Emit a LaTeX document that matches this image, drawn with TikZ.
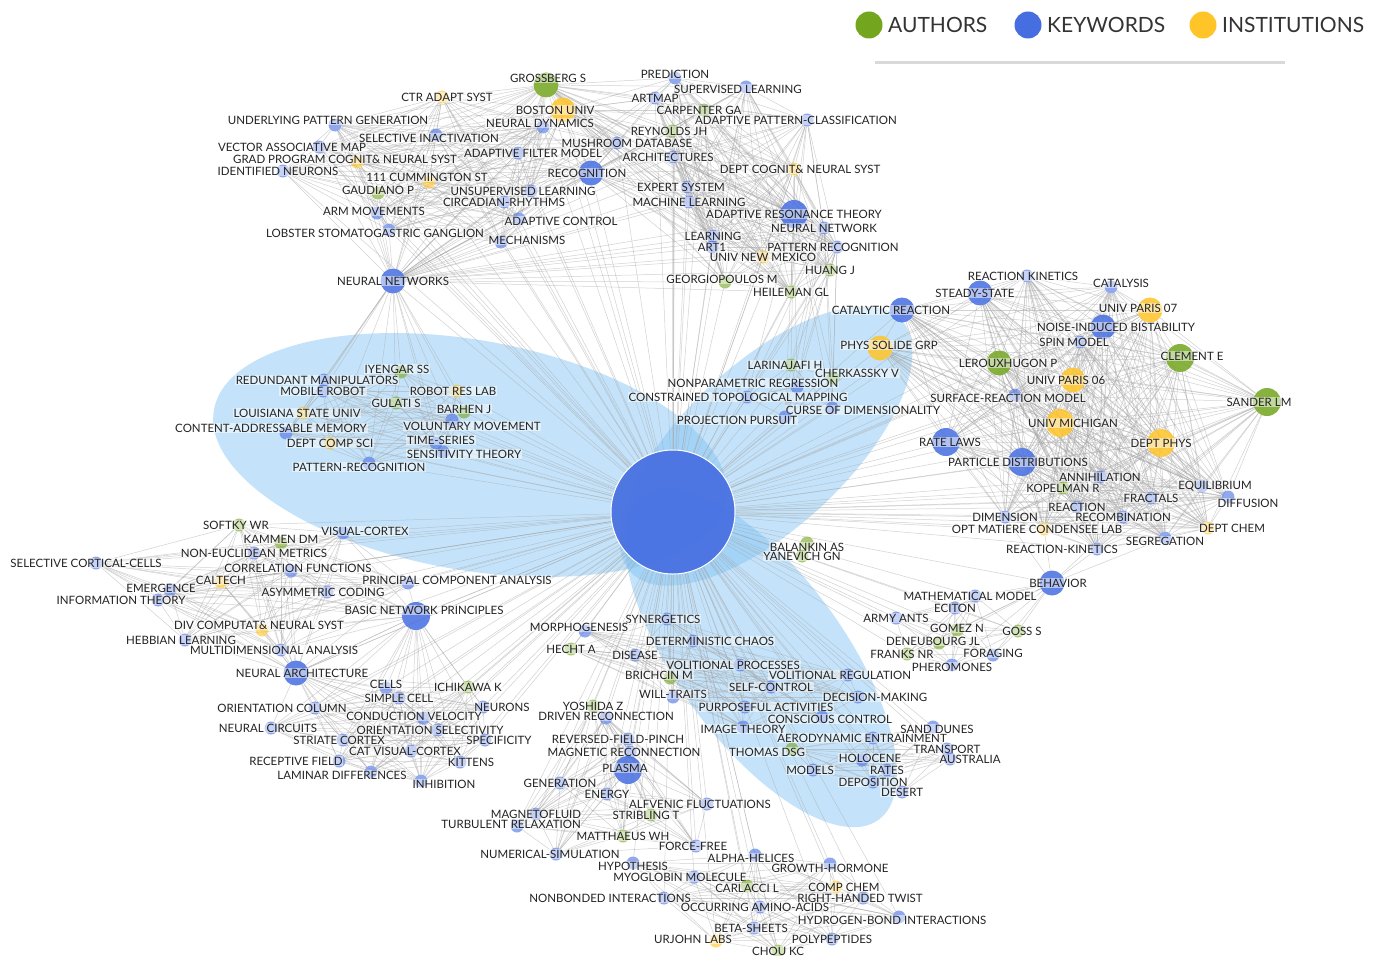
\documentclass[tikz,border=0pt]{standalone}
\usepackage{fontspec}
\setmainfont{Lato}

\definecolor{kwblue}{RGB}{70,110,225}
\definecolor{augreen}{RGB}{115,165,30}
\definecolor{instyel}{RGB}{255,196,40}
\definecolor{ellblue}{RGB}{125,195,245}
\definecolor{linkgray}{RGB}{165,165,165}
\definecolor{lbltext}{RGB}{35,35,35}

\tikzstyle{vtx}=[circle, inner sep=0pt, minimum size=13pt, fill opacity=0.6, draw=none]
\tikzstyle{au}=[vtx, fill=augreen]
\tikzstyle{kw}=[vtx, fill=kwblue]
\tikzstyle{inst}=[vtx, fill=instyel]
\tikzstyle{big}=[minimum size=25pt, fill opacity=0.85]
\tikzstyle{huge}=[minimum size=28pt, fill opacity=0.85]
\tikzstyle{lbl}=[font=\fontsize{11.5}{12}\selectfont, text=lbltext, fill=white, fill opacity=0.5, text opacity=1, inner sep=0.8pt]
\tikzstyle{link}=[draw=linkgray, line width=0.5pt, draw opacity=0.5]
\tikzstyle{blob}=[fill=ellblue, fill opacity=0.45]
\tikzstyle{legtext}=[font=\fontsize{21}{24}\selectfont, text=black!80, anchor=west, inner sep=0pt]

\pgfdeclarelayer{back}
\pgfdeclarelayer{links}
\pgfsetlayers{back,links,main}

\newcommand{\meshcluster}[1]{%
  \foreach \pa [count=\ca] in #1 {%
    \foreach \pb [count=\cb] in #1 {%
      \ifnum\cb>\ca\relax \draw[link] (\pa) -- (\pb);\fi}}}

\def\clA{gross,ctr,boston,neurdyn,underl,selinact,vecmap,gradprog,identn,adfilt,mushroom,recog,cumm,gaudiano,unsup,circad,armmov,adcontrol,lobster,mechan,neuralnets}
\def\clB{predict,superv,artmap,carpenter,adpattern,reynolds,archit,deptcog,expert,machine,art,neurnet,learning,artone,patrec,newmexico,huang,georg,heileman}
\def\clC{reackin,steady,catreac,catalysis,paris7,noise,spin,clement,leroux,phys,paris6,surface,sander,michigan,ratelaws,deptphys,partdist,annih,kopelman,equil,fractals,diffusion,reaction,dimension,recomb,optmat,deptchem,segreg,reackin2}
\def\clD{iyengar,redund,mobile,robotres,gulati,louisiana,barhen,content,volunt,deptcomp,timeser,sensit,patrec2}
\def\clE{larin,cherk,nonpar,constr,curse,projp}
\def\clF{softky,kammen,viscort,noneucl,selcort,corrfun,emerg,caltech,princ,asym,infoth,basic,divcomp,hebb,multidim,neurarch}
\def\clG{cells,ichikawa,simple,oricol,neurons,conduct,neurcirc,orisel,striate,specif,catvis,recept,kittens,laminar,inhib,neurarch,basic}
\def\clH{synerg,morpho,hecht,disease,determ,volproc,brichcin,willtr,selfc,volreg,decis,purpose,conscious,image}
\def\clI{thomas,models,aerodyn,holocene,rates,depo,desert,sanddunes,transport,australia}
\def\clJ{behavior,mathmod,eciton,armyants,gomez,goss,deneub,franks,foraging,pheromones}
\def\clK{yoshida,driven,reversed,magrec,plasma,generation,energy,alfvenic,magneto,stribling,turbulent,matthaeus,forcefree,numsim}
\def\clM{alpha,growth,hypoth,myoglobin,carlacci,compchem,nonbonded,righthand,occurring,hydrogen,betash,urjohn,polypep,chou}
\edef\allnodes{\clA,\clB,\clC,\clD,\clE,\clF,\clG,\clH,\clI,\clJ,\clK,\clM,balankin,yanevich}

\begin{document}
\begin{tikzpicture}[x=1pt,y=-1pt]
\useasboundingbox (0,0) rectangle (1380,955);

\begin{pgfonlayer}{back}
\fill[white] (0,0) rectangle (1380,955);
\fill[blob, rotate around={-10:(470,455)}] (470,455) ellipse [x radius=260, y radius=115];
\fill[blob, rotate around={43:(766,446)}] (766,446) ellipse [x radius=185, y radius=82];
\fill[blob, rotate around={-54:(761,658)}] (761,658) ellipse [x radius=200, y radius=84];
\end{pgfonlayer}

\node(hub)[kw, minimum size=124pt, fill opacity=0.92, draw=white, line width=1pt] at (673,512) {};

\node(gross)[au, big, label={[lbl,xshift=2pt,yshift=7pt]center:GROSSBERG S}] at (546,85) {};
\node(ctr)[inst, label={[lbl,xshift=5pt]center:CTR ADAPT SYST}] at (442,97) {};
\node(boston)[inst, big, label={[lbl,xshift=-8pt]center:BOSTON UNIV}] at (563,110) {};
\node(neurdyn)[kw, label={[lbl,xshift=-3pt,yshift=4pt]center:NEURAL DYNAMICS}] at (543,127) {};
\node(underl)[kw, label={[lbl,xshift=-7pt,yshift=5pt]center:UNDERLYING PATTERN GENERATION}] at (335,125) {};
\node(selinact)[kw, label={[lbl,xshift=-7pt,yshift=-3pt]center:SELECTIVE INACTIVATION}] at (436,135) {};
\node(vecmap)[kw, label={[lbl,xshift=-27pt]center:VECTOR ASSOCIATIVE MAP}] at (319,147) {};
\node(gradprog)[inst, label={[lbl,xshift=-12pt,yshift=3pt]center:GRAD PROGRAM COGNIT\& NEURAL SYST}] at (357,162) {};
\node(identn)[kw, label={[lbl,xshift=-5pt]center:IDENTIFIED NEURONS}] at (283,171) {};
\node(adfilt)[kw, label={[lbl,xshift=15pt]center:ADAPTIVE FILTER MODEL}] at (518,153) {};
\node(mushroom)[kw, label={[lbl,xshift=10pt]center:MUSHROOM DATABASE}] at (617,143) {};
\node(recog)[kw, big, label={[lbl,xshift=-4pt]center:RECOGNITION}] at (591,173) {};
\node(cumm)[inst, label={[lbl,xshift=-2pt,yshift=5pt]center:111 CUMMINGTON ST}] at (429,182) {};
\node(gaudiano)[au, label={[lbl,yshift=3pt]center:GAUDIANO P}] at (378,193) {};
\node(unsup)[kw, label={[lbl,xshift=-8pt]center:UNSUPERVISED LEARNING}] at (531,191) {};
\node(circad)[kw, label={[lbl]center:CIRCADIAN-RHYTHMS}] at (504,202) {};
\node(armmov)[kw, label={[lbl,xshift=-3pt,yshift=2pt]center:ARM MOVEMENTS}] at (377,213) {};
\node(adcontrol)[kw, label={[lbl,xshift=42pt,yshift=-2pt]center:ADAPTIVE CONTROL}] at (519,219) {};
\node(lobster)[kw, label={[lbl,xshift=-14pt,yshift=-3pt]center:LOBSTER STOMATOGASTRIC GANGLION}] at (389,230) {};
\node(mechan)[kw, label={[lbl,xshift=26pt,yshift=2pt]center:MECHANISMS}] at (501,242) {};
\node(neuralnets)[kw, big, label={[lbl]center:NEURAL NETWORKS}] at (393,281) {};

\node(predict)[kw, label={[lbl,yshift=4pt]center:PREDICTION}] at (675,78) {};
\node(superv)[kw, label={[lbl,xshift=-8pt,yshift=-2pt]center:SUPERVISED LEARNING}] at (746,87) {};
\node(artmap)[kw, label={[lbl]center:ARTMAP}] at (655,98) {};
\node(carpenter)[au, label={[lbl,xshift=-5pt]center:CARPENTER GA}] at (704,110) {};
\node(adpattern)[kw, label={[lbl,xshift=-11pt]center:ADAPTIVE PATTERN-CLASSIFICATION}] at (807,120) {};
\node(reynolds)[au, label={[lbl,xshift=-3pt]center:REYNOLDS JH}] at (672,131) {};
\node(archit)[kw, label={[lbl,xshift=-5pt]center:ARCHITECTURES}] at (673,157) {};
\node(deptcog)[inst, label={[lbl,xshift=6pt]center:DEPT COGNIT\& NEURAL SYST}] at (794,169) {};
\node(expert)[kw, label={[lbl,xshift=-6pt]center:EXPERT SYSTEM}] at (687,187) {};
\node(machine)[kw, label={[lbl]center:MACHINE LEARNING}] at (689,202) {};
\node(art)[kw, huge, label={[lbl]center:ADAPTIVE RESONANCE THEORY}] at (794,214) {};
\node(neurnet)[kw, label={[lbl]center:NEURAL NETWORK}] at (824,228) {};
\node(learning)[kw, label={[lbl]center:LEARNING}] at (713,236) {};
\node(artone)[kw, label={[lbl]center:ART1}] at (712,247) {};
\node(patrec)[kw, label={[lbl,xshift=-4pt]center:PATTERN RECOGNITION}] at (837,247) {};
\node(newmexico)[inst, label={[lbl]center:UNIV NEW MEXICO}] at (763,257) {};
\node(huang)[au, label={[lbl]center:HUANG J}] at (830,270) {};
\node(georg)[au, label={[lbl,xshift=-3pt,yshift=3pt]center:GEORGIOPOULOS M}] at (725,282) {};
\node(heileman)[au, label={[lbl]center:HEILEMAN GL}] at (791,292) {};

\node(reackin)[kw, label={[lbl,xshift=-4pt]center:REACTION KINETICS}] at (1027,276) {};
\node(steady)[kw, big, label={[lbl,xshift=-5pt]center:STEADY-STATE}] at (980,293) {};
\node(catreac)[kw, big, label={[lbl,xshift=-11pt]center:CATALYTIC REACTION}] at (902,310) {};
\node(catalysis)[kw, label={[lbl,xshift=10pt,yshift=4pt]center:CATALYSIS}] at (1111,287) {};
\node(paris7)[inst, big, label={[lbl,xshift=-12pt,yshift=2pt]center:UNIV PARIS 07}] at (1150,310) {};
\node(noise)[kw, big, label={[lbl,xshift=13pt]center:NOISE-INDUCED BISTABILITY}] at (1103,327) {};
\node(spin)[kw, label={[lbl,xshift=-6pt]center:SPIN MODEL}] at (1080,342) {};
\node(clement)[au, huge, label={[lbl,xshift=12pt,yshift=2pt]center:CLEMENT E}] at (1180,358) {};
\node(leroux)[au, big, label={[lbl,xshift=9pt]center:LEROUXHUGON P}] at (999,363) {};
\node(phys)[inst, big, label={[lbl,xshift=9pt,yshift=3pt]center:PHYS SOLIDE GRP}] at (880,348) {};
\node(paris6)[inst, big, label={[lbl,xshift=-7pt]center:UNIV PARIS 06}] at (1073,380) {};
\node(surface)[kw, label={[lbl,xshift=-7pt,yshift=-3pt]center:SURFACE-REACTION MODEL}] at (1015,395) {};
\node(sander)[au, huge, label={[lbl,xshift=-8pt]center:SANDER LM}] at (1267,402) {};
\node(michigan)[inst, huge, label={[lbl,xshift=13pt]center:UNIV MICHIGAN}] at (1060,423) {};
\node(ratelaws)[kw, huge, label={[lbl,xshift=4pt]center:RATE LAWS}] at (946,442) {};
\node(deptphys)[inst, huge, label={[lbl]center:DEPT PHYS}] at (1161,443) {};
\node(partdist)[kw, huge, label={[lbl,xshift=-4pt]center:PARTICLE DISTRIBUTIONS}] at (1022,462) {};
\node(annih)[kw, label={[lbl]center:ANNIHILATION}] at (1100,477) {};
\node(kopelman)[au, label={[lbl]center:KOPELMAN R}] at (1063,488) {};
\node(equil)[kw, label={[lbl,xshift=13pt]center:EQUILIBRIUM}] at (1202,486) {};
\node(fractals)[kw, label={[lbl]center:FRACTALS}] at (1151,498) {};
\node(diffusion)[kw, label={[lbl,xshift=20pt,yshift=-6pt]center:DIFFUSION}] at (1228,497) {};
\node(reaction)[kw, label={[lbl]center:REACTION}] at (1077,507) {};
\node(dimension)[kw, label={[lbl]center:DIMENSION}] at (1005,517) {};
\node(recomb)[kw, label={[lbl]center:RECOMBINATION}] at (1123,517) {};
\node(optmat)[inst, label={[lbl,xshift=-7pt]center:OPT MATIERE CONDENSEE LAB}] at (1044,529) {};
\node(deptchem)[inst, label={[lbl,xshift=24pt]center:DEPT CHEM}] at (1208,528) {};
\node(segreg)[kw, label={[lbl,yshift=-3pt]center:SEGREGATION}] at (1165,538) {};
\node(reackin2)[kw, label={[lbl,xshift=-35pt]center:REACTION-KINETICS}] at (1097,549) {};

\node(iyengar)[au, label={[lbl,xshift=-4pt,yshift=3pt]center:IYENGAR SS}] at (401,372) {};
\node(redund)[kw, label={[lbl,xshift=-7pt]center:REDUNDANT MANIPULATORS}] at (324,380) {};
\node(mobile)[kw, label={[lbl]center:MOBILE ROBOT}] at (323,391) {};
\node(robotres)[inst, label={[lbl,xshift=-4pt]center:ROBOT RES LAB}] at (457,391) {};
\node(gulati)[au, label={[lbl]center:GULATI S}] at (396,403) {};
\node(louisiana)[inst, label={[lbl,xshift=-6pt]center:LOUISIANA STATE UNIV}] at (303,413) {};
\node(barhen)[au, label={[lbl,yshift=3pt]center:BARHEN J}] at (464,412) {};
\node(content)[kw, label={[lbl,xshift=-15pt,yshift=5pt]center:CONTENT-ADDRESSABLE MEMORY}] at (286,433) {};
\node(volunt)[kw, label={[lbl,xshift=20pt,yshift=-6pt]center:VOLUNTARY MOVEMENT}] at (452,420) {};
\node(deptcomp)[inst, label={[lbl]center:DEPT COMP SCI}] at (330,443) {};
\node(timeser)[kw, label={[lbl,xshift=5pt,yshift=3pt]center:TIME-SERIES}] at (436,443) {};
\node(sensit)[kw, label={[lbl,xshift=21pt,yshift=-2pt]center:SENSITIVITY THEORY}] at (443,452) {};
\node(patrec2)[kw, label={[lbl,xshift=-10pt,yshift=-4pt]center:PATTERN-RECOGNITION}] at (369,463) {};

\node(larin)[au, label={[lbl,xshift=-6pt]center:LARINAJAFI H}] at (791,365) {};
\node(cherk)[au, label={[lbl,xshift=24pt,yshift=5pt]center:CHERKASSKY V}] at (833,378) {};
\node(nonpar)[kw, label={[lbl,xshift=-44pt,yshift=4pt]center:NONPARAMETRIC REGRESSION}] at (797,387) {};
\node(constr)[kw, label={[lbl,xshift=-9pt]center:CONSTRAINED TOPOLOGICAL MAPPING}] at (747,397) {};
\node(curse)[kw, label={[lbl,xshift=31pt,yshift=-2pt]center:CURSE OF DIMENSIONALITY}] at (832,408) {};
\node(projp)[kw, label={[lbl,xshift=-48pt,yshift=-3pt]center:PROJECTION PURSUIT}] at (785,417) {};

\node(balankin)[au, label={[lbl,yshift=-4pt]center:BALANKIN AS}] at (807,543) {};
\node(yanevich)[au, label={[lbl]center:YANEVICH GN}] at (802,556) {};

\node(softky)[au, label={[lbl,xshift=-3pt]center:SOFTKY WR}] at (239,525) {};
\node(kammen)[au, label={[lbl,yshift=4pt]center:KAMMEN DM}] at (281,543) {};
\node(viscort)[kw, label={[lbl,xshift=22pt,yshift=2pt]center:VISUAL-CORTEX}] at (343,533) {};
\node(noneucl)[kw, label={[lbl]center:NON-EUCLIDEAN METRICS}] at (254,553) {};
\node(selcort)[kw, label={[lbl,xshift=-10pt]center:SELECTIVE CORTICAL-CELLS}] at (96,563) {};
\node(corrfun)[kw, label={[lbl,xshift=7pt,yshift=3pt]center:CORRELATION FUNCTIONS}] at (291,571) {};
\node(emerg)[kw, label={[lbl,xshift=-9pt,yshift=2pt]center:EMERGENCE}] at (170,590) {};
\node(caltech)[inst, label={[lbl,yshift=2pt]center:CALTECH}] at (221,582) {};
\node(princ)[kw, label={[lbl,xshift=49pt,yshift=3pt]center:PRINCIPAL COMPONENT ANALYSIS}] at (408,583) {};
\node(asym)[kw, label={[lbl,xshift=-4pt]center:ASYMMETRIC CODING}] at (327,592) {};
\node(infoth)[kw, label={[lbl,xshift=-37pt]center:INFORMATION THEORY}] at (158,600) {};
\node(basic)[kw, huge, label={[lbl,xshift=8pt,yshift=6pt]center:BASIC NETWORK PRINCIPLES}] at (416,616) {};
\node(divcomp)[inst, label={[lbl,xshift=-3pt,yshift=5pt]center:DIV COMPUTAT\& NEURAL SYST}] at (262,630) {};
\node(hebb)[kw, label={[lbl,xshift=-4pt]center:HEBBIAN LEARNING}] at (185,640) {};
\node(multidim)[kw, label={[lbl,xshift=-7pt]center:MULTIDIMENSIONAL ANALYSIS}] at (281,650) {};
\node(neurarch)[kw, big, label={[lbl,xshift=6pt]center:NEURAL ARCHITECTURE}] at (296,673) {};

\node(cells)[kw, label={[lbl,yshift=4pt]center:CELLS}] at (386,688) {};
\node(ichikawa)[au, label={[lbl]center:ICHIKAWA K}] at (468,687) {};
\node(simple)[kw, label={[lbl]center:SIMPLE CELL}] at (399,698) {};
\node(oricol)[kw, label={[lbl,xshift=-33pt]center:ORIENTATION COLUMN}] at (315,708) {};
\node(neurons)[kw, label={[lbl,xshift=19pt]center:NEURONS}] at (483,707) {};
\node(conduct)[kw, label={[lbl,xshift=-9pt,yshift=2pt]center:CONDUCTION VELOCITY}] at (423,718) {};
\node(neurcirc)[kw, label={[lbl,xshift=-3pt]center:NEURAL CIRCUITS}] at (271,728) {};
\node(orisel)[kw, label={[lbl,xshift=-8pt]center:ORIENTATION SELECTIVITY}] at (438,730) {};
\node(striate)[kw, label={[lbl,xshift=-4pt]center:STRIATE CORTEX}] at (343,740) {};
\node(specif)[kw, label={[lbl,xshift=14pt]center:SPECIFICITY}] at (485,740) {};
\node(catvis)[kw, label={[lbl,xshift=-6pt]center:CAT VISUAL-CORTEX}] at (411,751) {};
\node(recept)[kw, label={[lbl,xshift=-43pt]center:RECEPTIVE FIELD}] at (339,761) {};
\node(kittens)[kw, label={[lbl,xshift=11pt]center:KITTENS}] at (460,762) {};
\node(laminar)[kw, label={[lbl,xshift=-29pt,yshift=-3pt]center:LAMINAR DIFFERENCES}] at (371,772) {};
\node(inhib)[kw, label={[lbl,xshift=23pt,yshift=-3pt]center:INHIBITION}] at (421,781) {};

\node(synerg)[kw, label={[lbl,xshift=-4pt]center:SYNERGETICS}] at (667,619) {};
\node(morpho)[kw, label={[lbl,xshift=-6pt,yshift=4pt]center:MORPHOGENESIS}] at (585,631) {};
\node(hecht)[au, label={[lbl]center:HECHT A}] at (571,649) {};
\node(disease)[kw, label={[lbl]center:DISEASE}] at (635,655) {};
\node(determ)[kw, label={[lbl,xshift=17pt]center:DETERMINISTIC CHAOS}] at (693,641) {};
\node(volproc)[kw, label={[lbl,xshift=-7pt]center:VOLITIONAL PROCESSES}] at (740,665) {};
\node(brichcin)[au, label={[lbl,xshift=-11pt,yshift=3pt]center:BRICHCIN M}] at (670,678) {};
\node(willtr)[kw, label={[lbl,yshift=3pt]center:WILL-TRAITS}] at (673,697) {};
\node(selfc)[kw, label={[lbl]center:SELF-CONTROL}] at (771,687) {};
\node(volreg)[kw, label={[lbl,xshift=-8pt]center:VOLITIONAL REGULATION}] at (848,675) {};
\node(decis)[kw, label={[lbl,xshift=17pt]center:DECISION-MAKING}] at (858,697) {};
\node(purpose)[kw, label={[lbl,xshift=21pt]center:PURPOSEFUL ACTIVITIES}] at (745,707) {};
\node(conscious)[kw, label={[lbl,xshift=8pt,yshift=-2pt]center:CONSCIOUS CONTROL}] at (822,717) {};
\node(image)[kw, label={[lbl,yshift=-2pt]center:IMAGE THEORY}] at (743,727) {};

\node(thomas)[au, label={[lbl,xshift=-25pt,yshift=-3pt]center:THOMAS DSG}] at (792,749) {};
\node(models)[kw, label={[lbl,xshift=-3pt]center:MODELS}] at (813,770) {};
\node(aerodyn)[kw, label={[lbl,xshift=-11pt]center:AERODYNAMIC ENTRAINMENT}] at (873,738) {};
\node(holocene)[kw, label={[lbl,xshift=8pt,yshift=2pt]center:HOLOCENE}] at (862,760) {};
\node(rates)[kw, label={[lbl]center:RATES}] at (887,770) {};
\node(depo)[kw, label={[lbl]center:DEPOSITION}] at (873,782) {};
\node(desert)[kw, label={[lbl]center:DESERT}] at (902,792) {};
\node(sanddunes)[kw, label={[lbl,xshift=4pt,yshift=-2pt]center:SAND DUNES}] at (933,727) {};
\node(transport)[kw, label={[lbl]center:TRANSPORT}] at (947,749) {};
\node(australia)[kw, label={[lbl,xshift=20pt]center:AUSTRALIA}] at (950,759) {};

\node(behavior)[kw, big, label={[lbl,xshift=6pt]center:BEHAVIOR}] at (1052,583) {};
\node(mathmod)[kw, label={[lbl,xshift=-5pt]center:MATHEMATICAL MODEL}] at (975,596) {};
\node(eciton)[kw, label={[lbl]center:ECITON}] at (955,608) {};
\node(armyants)[kw, label={[lbl]center:ARMY ANTS}] at (896,618) {};
\node(gomez)[au, label={[lbl,yshift=2pt]center:GOMEZ N}] at (957,630) {};
\node(goss)[au, label={[lbl,xshift=4pt]center:GOSS S}] at (1018,631) {};
\node(deneub)[au, label={[lbl,xshift=-6pt,yshift=2pt]center:DENEUBOURG JL}] at (939,643) {};
\node(franks)[au, label={[lbl,xshift=-5pt]center:FRANKS NR}] at (907,654) {};
\node(foraging)[kw, label={[lbl,yshift=2pt]center:FORAGING}] at (993,655) {};
\node(pheromones)[kw, label={[lbl,yshift=-2pt]center:PHEROMONES}] at (952,665) {};

\node(yoshida)[au, label={[lbl]center:YOSHIDA Z}] at (593,706) {};
\node(driven)[kw, label={[lbl,yshift=2pt]center:DRIVEN RECONNECTION}] at (606,718) {};
\node(reversed)[kw, label={[lbl,xshift=-10pt]center:REVERSED-FIELD-PINCH}] at (628,739) {};
\node(magrec)[kw, label={[lbl,xshift=-6pt]center:MAGNETIC RECONNECTION}] at (630,752) {};
\node(plasma)[kw, huge, label={[lbl,xshift=-3pt,yshift=2pt]center:PLASMA}] at (628,770) {};
\node(generation)[kw, label={[lbl]center:GENERATION}] at (560,783) {};
\node(energy)[kw, label={[lbl]center:ENERGY}] at (607,794) {};
\node(alfvenic)[kw, label={[lbl,xshift=-7pt]center:ALFVENIC FLUCTUATIONS}] at (707,804) {};
\node(magneto)[kw, label={[lbl]center:MAGNETOFLUID}] at (536,814) {};
\node(stribling)[au, label={[lbl,xshift=-5pt]center:STRIBLING T}] at (651,815) {};
\node(turbulent)[kw, label={[lbl,xshift=-6pt,yshift=2pt]center:TURBULENT RELAXATION}] at (517,826) {};
\node(matthaeus)[au, label={[lbl]center:MATTHAEUS WH}] at (623,836) {};
\node(forcefree)[kw, label={[lbl,xshift=-3pt]center:FORCE-FREE}] at (696,846) {};
\node(numsim)[kw, label={[lbl,xshift=-6pt]center:NUMERICAL-SIMULATION}] at (556,854) {};

\node(alpha)[kw, label={[lbl,xshift=-4pt,yshift=-3pt]center:ALPHA-HELICES}] at (755,855) {};
\node(growth)[kw, label={[lbl,yshift=-4pt]center:GROWTH-HORMONE}] at (830,864) {};
\node(hypoth)[kw, label={[lbl,yshift=-3pt]center:HYPOTHESIS}] at (633,863) {};
\node(myoglobin)[kw, label={[lbl,xshift=-14pt]center:MYOGLOBIN MOLECULE}] at (694,877) {};
\node(carlacci)[au, label={[lbl,yshift=-2pt]center:CARLACCI L}] at (747,886) {};
\node(compchem)[inst, label={[lbl,xshift=8pt]center:COMP CHEM}] at (836,887) {};
\node(nonbonded)[kw, label={[lbl,xshift=-54pt]center:NONBONDED INTERACTIONS}] at (664,898) {};
\node(righthand)[kw, label={[lbl,xshift=-3pt]center:RIGHT-HANDED TWIST}] at (863,898) {};
\node(occurring)[kw, label={[lbl,xshift=-5pt]center:OCCURRING AMINO-ACIDS}] at (760,907) {};
\node(hydrogen)[kw, label={[lbl,xshift=-7pt,yshift=-3pt]center:HYDROGEN-BOND INTERACTIONS}] at (899,917) {};
\node(betash)[kw, label={[lbl,xshift=-3pt]center:BETA-SHEETS}] at (754,928) {};
\node(urjohn)[inst, label={[lbl,xshift=-23pt,yshift=2pt]center:URJOHN LABS}] at (716,941) {};
\node(polypep)[kw, label={[lbl]center:POLYPEPTIDES}] at (832,939) {};
\node(chou)[au, label={[lbl]center:CHOU KC}] at (778,951) {};

\node(legau)[au, minimum size=27pt, fill opacity=1] at (869,25) {};
\node(legauT)[legtext] at (888,25) {AUTHORS};
\node(legkw)[kw, minimum size=27pt, fill opacity=1] at (1028,25) {};
\node(legkwT)[legtext] at (1047,25) {KEYWORDS};
\node(legin)[inst, minimum size=27pt, fill opacity=1] at (1203,25) {};
\node(leginT)[legtext] at (1222,25) {INSTITUTIONS};
\coordinate(ruleL) at (875,63);
\coordinate(ruleR) at (1285,63);
\draw[black!15, line width=3pt] (ruleL) -- (ruleR);

\begin{pgfonlayer}{links}
\foreach \pa in \allnodes {\draw[link] (hub) -- (\pa);}
\meshcluster{\clA}
\meshcluster{\clB}
\meshcluster{\clC}
\meshcluster{\clD}
\meshcluster{\clE}
\meshcluster{\clF}
\meshcluster{\clG}
\meshcluster{\clH}
\meshcluster{\clI}
\meshcluster{\clJ}
\meshcluster{\clK}
\meshcluster{\clM}
\foreach \pa in \clB {\foreach \pb in {gross,boston,recog,neuralnets} {\draw[link] (\pa) -- (\pb);}}
\foreach \pa in \clD {\draw[link] (neuralnets) -- (\pa);}
\foreach \pa in \clE {\foreach \pb in {art,neurnet,patrec} {\draw[link] (\pa) -- (\pb);}}
\foreach \pb in {reackin2,segreg,dimension,optmat,recomb} {\draw[link] (behavior) -- (\pb);}
\draw[link] (balankin) -- (yanevich);
\end{pgfonlayer}

\end{tikzpicture}
\end{document}
